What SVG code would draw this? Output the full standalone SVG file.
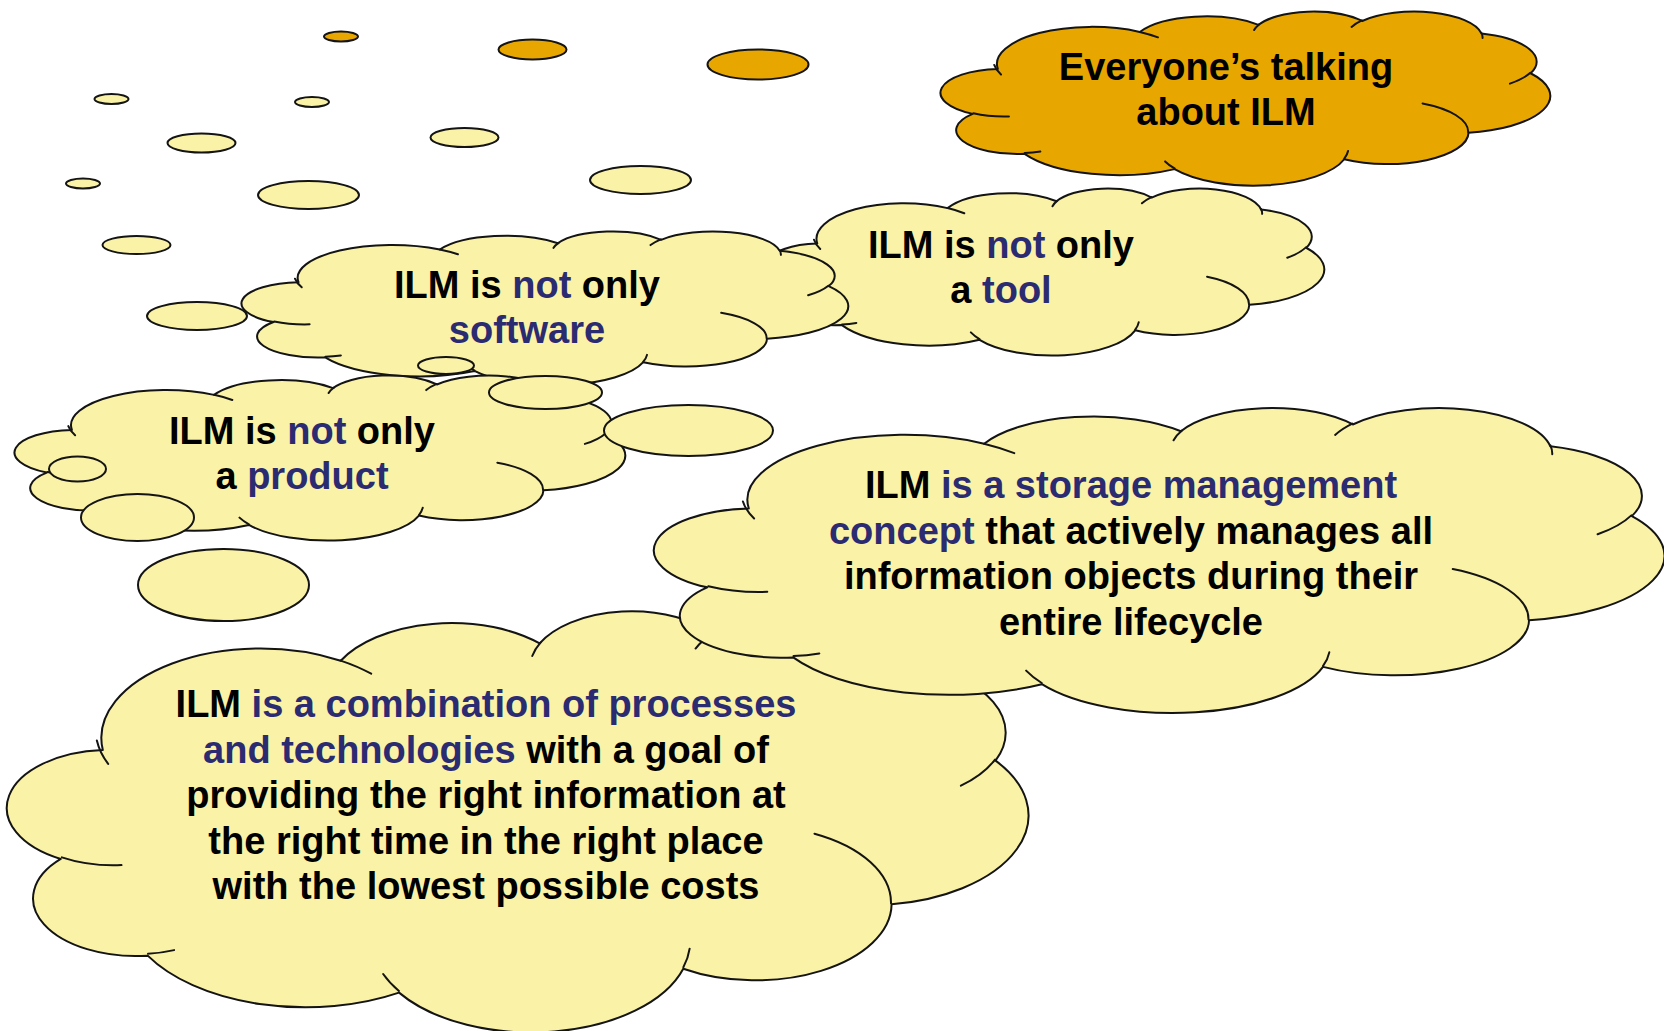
<svg xmlns="http://www.w3.org/2000/svg" xmlns:xlink="http://www.w3.org/1999/xlink" width="1664" height="1031" viewBox="0 0 1664 1031">
<style>
.cl{stroke:#141414;stroke-width:2;vector-effect:non-scaling-stroke;stroke-linejoin:round}
.ci{fill:none;stroke:#141414;stroke-width:2;vector-effect:non-scaling-stroke;stroke-linecap:round}
.or{fill:#E8A600}
.ye{fill:#FAF2A6}
.bub{stroke:#141414;stroke-width:2}
text{font-family:"Liberation Sans",Arial,sans-serif;font-weight:bold;font-size:38px;text-anchor:middle;fill:#000}
.b{fill:#2B2B72}
</style>
<defs>
<path id="cloudShape" class="cl" d="M3900 14370A6753 9190 0 0 1 14005 5202A5333 7267 0 0 1 22456 3429A4365 5945 0 0 1 29834 2478A4857 6595 0 0 1 38319 5573A5333 7273 0 0 1 41820 15456A6775 9220 0 0 1 37405 30198A5785 7867 0 0 1 28557 36809A6752 9215 0 0 1 16483 39262A7720 10543 0 0 1 5806 35466A4360 5918 0 0 1 2114 25544A4345 5945 0 0 1 3900 14370Z"/>
<path id="cloudInner" class="ci" d="M4693 26177A4345 5945 0 0 1 2160 25380M6928 34899A4360 5918 0 0 1 5820 35281M16478 39090A6752 9215 0 0 1 15809 37347M28827 34751A6752 9215 0 0 1 28560 36660M34129 22954A5785 7867 0 0 1 37380 30090M41798 15354A5333 7273 0 0 1 40350 18030M38324 5426A4857 6595 0 0 1 38401 6690M29078 3952A4857 6595 0 0 1 29819 2341M22141 4720A4365 5945 0 0 1 22500 3331M14000 5192A6753 9190 0 0 1 15299 6539M4127 15789A6753 9190 0 0 1 3647 13384"/>
</defs>

<g id="cloud-everyone">
<use href="#cloudShape" class="or" transform="translate(943,11) scale(0.014051,0.0040278)"/>
<use href="#cloudInner" transform="translate(943,11) scale(0.014051,0.0040278)"/>
<text x="1226" y="80">Everyone’s talking</text>
<text x="1226" y="125">about ILM</text>
</g>

<g id="cloud-combination">
<use href="#cloudShape" class="ye" transform="translate(11,610) scale(0.023542,0.0097454)"/>
<use href="#cloudInner" transform="translate(11,610) scale(0.023542,0.0097454)"/>
<text x="486" y="717">ILM<tspan class="b"> is a combination of processes</tspan></text>
<text x="486" y="762.5"><tspan class="b">and technologies</tspan> with a goal of</text>
<text x="486" y="808">providing the right information at</text>
<text x="486" y="853.5">the right time in the right place</text>
<text x="486" y="899">with the lowest possible costs</text>
</g>

<g id="cloud-storage">
<use href="#cloudShape" class="ye" transform="translate(658,407) scale(0.023287,0.0070602)"/>
<use href="#cloudInner" transform="translate(658,407) scale(0.023287,0.0070602)"/>
<text x="1131" y="498">ILM<tspan class="b"> is a storage management</tspan></text>
<text x="1131" y="543.5"><tspan class="b">concept</tspan> that actively manages all</text>
<text x="1131" y="589">information objects during their</text>
<text x="1131" y="634.5">entire lifecycle</text>
</g>

<g id="cloud-tool">
<use href="#cloudShape" class="ye" transform="translate(767,188) scale(0.012894,0.0038657)"/>
<use href="#cloudInner" transform="translate(767,188) scale(0.012894,0.0038657)"/>
<text x="1001" y="257.5">ILM is <tspan class="b">not</tspan> only</text>
<text x="1001" y="302.5">a <tspan class="b">tool</tspan></text>
</g>

<g id="cloud-software">
<use href="#cloudShape" class="ye" transform="translate(244,231) scale(0.013981,0.0035648)"/>
<use href="#cloudInner" transform="translate(244,231) scale(0.013981,0.0035648)"/>
<text x="527" y="297.5">ILM is <tspan class="b">not</tspan> only</text>
<text x="527" y="342.5"><tspan class="b">software</tspan></text>
</g>

<g id="cloud-product">
<use href="#cloudShape" class="ye" transform="translate(17,375) scale(0.014074,0.0038194)"/>
<use href="#cloudInner" transform="translate(17,375) scale(0.014074,0.0038194)"/>
<text x="302" y="444">ILM is <tspan class="b">not</tspan> only</text>
<text x="302" y="488.5">a <tspan class="b">product</tspan></text>
</g>

<g id="bubbles">
<ellipse class="bub or" cx="341" cy="36.5" rx="17" ry="5"/>
<ellipse class="bub or" cx="532.5" cy="49.5" rx="34" ry="10"/>
<ellipse class="bub or" cx="758" cy="64.5" rx="50.5" ry="15"/>
<ellipse class="bub ye" cx="111.5" cy="99" rx="17" ry="5"/>
<ellipse class="bub ye" cx="312" cy="102" rx="17" ry="5"/>
<ellipse class="bub ye" cx="201.5" cy="143" rx="34" ry="9.5"/>
<ellipse class="bub ye" cx="464.5" cy="137.5" rx="34" ry="9.5"/>
<ellipse class="bub ye" cx="83" cy="183.5" rx="17" ry="5"/>
<ellipse class="bub ye" cx="308.5" cy="195" rx="50.5" ry="14"/>
<ellipse class="bub ye" cx="640.5" cy="180" rx="50.5" ry="14"/>
<ellipse class="bub ye" cx="136.5" cy="245" rx="34" ry="9"/>
<ellipse class="bub ye" cx="197" cy="316" rx="50" ry="14"/>
<ellipse class="bub ye" cx="446" cy="365.5" rx="28" ry="8.5"/>
<ellipse class="bub ye" cx="545.5" cy="392.5" rx="56.5" ry="16.5"/>
<ellipse class="bub ye" cx="688.5" cy="430.5" rx="84.5" ry="25.5"/>
<ellipse class="bub ye" cx="77.5" cy="469" rx="28.5" ry="12.5"/>
<ellipse class="bub ye" cx="137.5" cy="517.5" rx="56.5" ry="23.5"/>
<ellipse class="bub ye" cx="223.5" cy="585" rx="85.5" ry="36"/>
</g>
</svg>
